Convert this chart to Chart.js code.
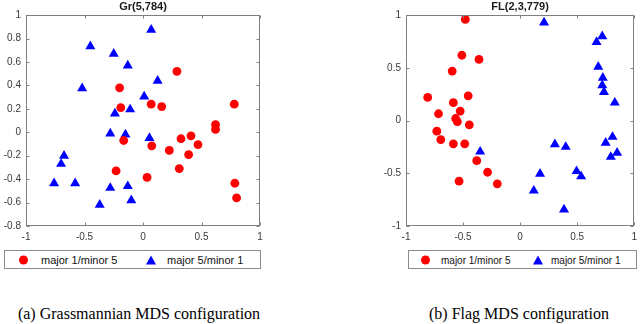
<!DOCTYPE html>
<html>
<head>
<meta charset="utf-8">
<script src="https://cdn.jsdelivr.net/npm/chart.js@4/dist/chart.umd.min.js"></script>
<style>
  html, body { margin:0; padding:0; background:#fff; }
  #wrap { position:relative; width:640px; height:324px; overflow:hidden; background:#fff; }
  canvas { position:absolute; top:0; }
  .legend { position:absolute; border:1px solid #8c8c8c; background:#fff; box-sizing:border-box;
            font-family:"Liberation Sans", Arial, sans-serif; color:#111; }
  .legend span { position:absolute; top:50%; transform:translateY(-50%); white-space:nowrap; }
  .dot { width:9px; height:9px; border-radius:50%; background:#ff0000; }
  .tri { width:0; height:0; border-left:5px solid transparent; border-right:5px solid transparent; border-bottom:9px solid #0000ff; }
  .cap { position:absolute; font-family:"Liberation Serif", "Times New Roman", serif; font-size:16px; color:#000; white-space:nowrap; transform:translateX(-50%); }
</style>
</head>
<body>
<div id="wrap">
  <canvas id="c1" width="270" height="244" style="left:0px"></canvas>
  <canvas id="c2" width="260" height="244" style="left:380px"></canvas>

  <div class="legend" style="left:4px; top:250px; width:257px; height:19px; font-size:11px;">
    <span class="dot" style="left:14px"></span>
    <span id="l1a" style="left:36px"></span>
    <span class="tri" style="left:141px"></span>
    <span id="l1b" style="left:162px"></span>
  </div>
  <div class="legend" style="left:408px; top:250px; width:229px; height:19px; font-size:10px;">
    <span class="dot" style="left:12px"></span>
    <span id="l2a" style="left:32px"></span>
    <span class="tri" style="left:124px"></span>
    <span id="l2b" style="left:142px"></span>
  </div>

  <div class="cap" id="cap1" style="left:139px; top:305px;"></div>
  <div class="cap" id="cap2" style="left:519px; top:305px;"></div>
</div>
<script>
// ---------- data ----------
const seriesNames = ["major 1/minor 5", "major 5/minor 1"];
const captions = ["(a) Grassmannian MDS configuration", "(b) Flag MDS configuration"];
const titles = ["Gr(5,784)", "FL(2,3,779)"];

// Grassmannian MDS
const grRedX  = [0.29, -0.20, -0.19, 0.07, 0.16, 0.78, 0.62, 0.62, -0.165, 0.075, 0.325, 0.41, 0.47, 0.225, 0.39, 0.31, -0.23, 0.035, 0.785, 0.80];
const grRedY  = [0.52, 0.38, 0.21, 0.24, 0.22, 0.24, 0.065, 0.025, -0.07, -0.115, -0.055, -0.03, -0.105, -0.155, -0.19, -0.31, -0.33, -0.385, -0.435, -0.56];
const grBlueX = [0.07, -0.45, -0.25, -0.13, -0.52, 0.125, 0.01, -0.11, -0.24, -0.28, -0.15, 0.055, -0.675, -0.70, -0.76, -0.58, -0.28, -0.13, -0.37, -0.10];
const grBlueY = [0.875, 0.735, 0.67, 0.57, 0.375, 0.44, 0.305, 0.195, 0.16, -0.01, -0.02, -0.05, -0.2, -0.27, -0.435, -0.435, -0.475, -0.46, -0.62, -0.58];
const grXTicks = [-1, -0.5, 0, 0.5, 1];
const grYTicks = [-0.8, -0.6, -0.4, -0.2, 0, 0.2, 0.4, 0.6, 0.8, 1];

// Flag MDS
const flRedX  = [-0.48, -0.51, -0.36, -0.595, -0.81, -0.585, -0.455, -0.715, -0.525, -0.565, -0.55, -0.445, -0.73, -0.695, -0.585, -0.485, -0.38, -0.285, -0.535, -0.20];
const flRedY  = [0.96, 0.62, 0.58, 0.47, 0.22, 0.17, 0.235, 0.065, 0.09, 0.02, -0.01, -0.04, -0.10, -0.18, -0.22, -0.22, -0.38, -0.49, -0.575, -0.60];
const flBlueX = [0.21, 0.72, 0.67, 0.685, 0.725, 0.72, 0.735, 0.83, 0.81, 0.75, 0.85, 0.795, 0.305, 0.40, -0.35, 0.175, 0.495, 0.535, 0.12, 0.385];
const flBlueY = [0.93, 0.80, 0.745, 0.51, 0.405, 0.335, 0.27, 0.17, -0.155, -0.21, -0.305, -0.345, -0.225, -0.25, -0.295, -0.505, -0.48, -0.53, -0.665, -0.845];
const flXTicks = [-1, -0.5, 0, 0.5, 1];
const flYTicks = [-1, -0.5, 0, 0.5, 1];

// ---------- helpers ----------
const pts = (xs, ys) => xs.map((x, i) => ({ x: x, y: ys[i] }));
const FONT = '"Liberation Sans", Arial, sans-serif';

const framePlugin = {
  id: 'frame',
  afterDatasetsDraw(chart) {
    const { ctx, chartArea: a, scales } = chart;
    ctx.save();
    ctx.strokeStyle = '#7f7f7f';
    ctx.lineWidth = 1;
    const L = Math.round(a.left) + 0.5, R = Math.round(a.right) - 0.5;
    const T = Math.round(a.top) + 0.5, B = Math.round(a.bottom) - 0.5;
    ctx.strokeRect(L, T, R - L, B - T);
    const tl = 3;
    ctx.beginPath();
    scales.x.ticks.forEach(t => {
      const px = Math.round(scales.x.getPixelForValue(t.value)) + 0.5;
      ctx.moveTo(px, B); ctx.lineTo(px, B - tl);
      ctx.moveTo(px, T); ctx.lineTo(px, T + tl);
    });
    scales.y.ticks.forEach(t => {
      const py = Math.round(scales.y.getPixelForValue(t.value)) + 0.5;
      ctx.moveTo(L, py); ctx.lineTo(L + tl, py);
      ctx.moveTo(R, py); ctx.lineTo(R - tl, py);
    });
    ctx.stroke();
    ctx.restore();
  }
};

function makeChart(id, title, redX, redY, blueX, blueY, xTicks, yTicks, yMin, yMax, padRight) {
  const axisCommon = {
    type: 'linear',
    grid: { display: false, drawTicks: false },
    border: { display: false },
    ticks: { color: '#3a3a3a', font: { family: FONT, size: 10 }, padding: 5, autoSkip: false, maxRotation: 0,
             callback: v => String(v) }
  };
  return new Chart(document.getElementById(id), {
    type: 'scatter',
    data: {
      datasets: [
        { label: seriesNames[0], data: pts(redX, redY), pointStyle: 'circle', pointRadius: 4.4,
          backgroundColor: '#ff0000', borderColor: '#ff0000', borderWidth: 0, pointHoverRadius: 4.4 },
        { label: seriesNames[1], data: pts(blueX, blueY), pointStyle: 'triangle', pointRadius: 5.8,
          backgroundColor: '#0000ff', borderColor: '#0000ff', borderWidth: 0, pointHoverRadius: 5.8 }
      ]
    },
    options: {
      responsive: false,
      animation: false,
      devicePixelRatio: 1,
      layout: { padding: { top: 0, left: 0, right: padRight, bottom: 0 } },
      plugins: {
        legend: { display: false },
        tooltip: { enabled: false },
        title: { display: true, text: title, fullSize: false, color: '#1a1a1a',
                 font: { family: FONT, size: 11, weight: 'bold' }, padding: { top: 0, bottom: 2 } }
      },
      scales: {
        x: Object.assign({}, axisCommon, {
          min: -1, max: 1,
          afterBuildTicks: s => { s.ticks = xTicks.map(v => ({ value: v })); },
          afterFit: s => { s.height = 18; s.paddingLeft = 0; s.paddingRight = 0; }
        }),
        y: Object.assign({}, axisCommon, {
          min: yMin, max: yMax,
          afterBuildTicks: s => { s.ticks = yTicks.map(v => ({ value: v })); },
          afterFit: s => { s.width = 26; s.paddingTop = 0; s.paddingBottom = 0; }
        })
      }
    },
    plugins: [framePlugin]
  });
}

makeChart('c1', titles[0], grRedX, grRedY, grBlueX, grBlueY, grXTicks, grYTicks, -0.8, 1, 10);
makeChart('c2', titles[1], flRedX, flRedY, flBlueX, flBlueY, flXTicks, flYTicks, -1, 1, 1);

document.getElementById('l1a').textContent = seriesNames[0];
document.getElementById('l1b').textContent = seriesNames[1];
document.getElementById('l2a').textContent = seriesNames[0];
document.getElementById('l2b').textContent = seriesNames[1];
document.getElementById('cap1').textContent = captions[0];
document.getElementById('cap2').textContent = captions[1];
</script>
</body>
</html>
